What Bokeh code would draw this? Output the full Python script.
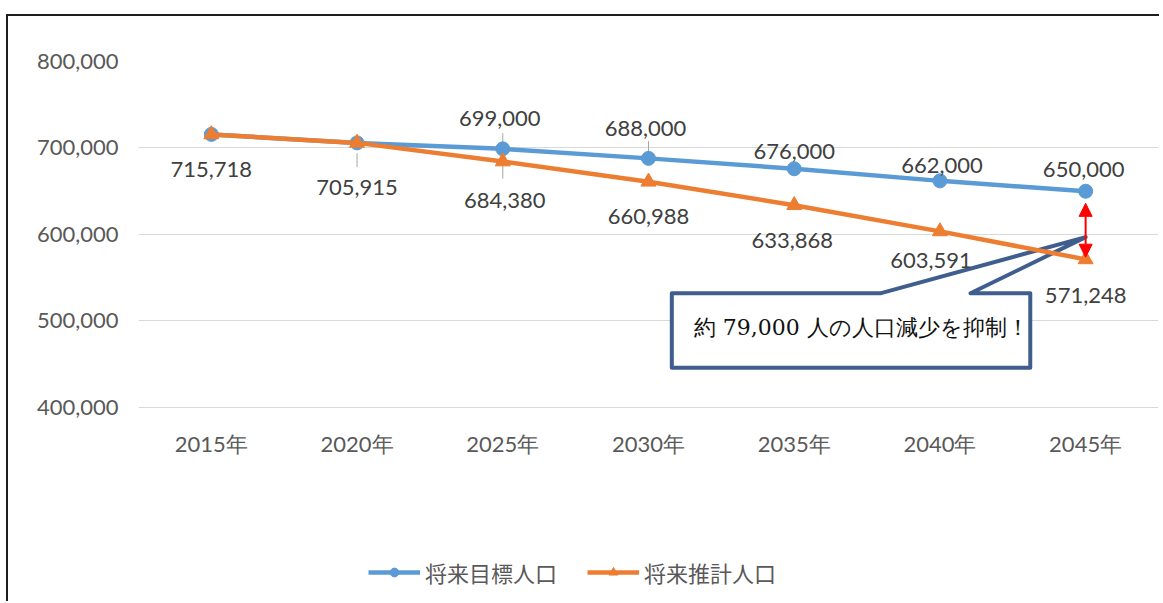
from bokeh.plotting import figure
from bokeh.models import (Legend, LegendItem, Arrow, NormalHead, Range1d, FactorRange,
                          NumeralTickFormatter, ColumnDataSource, FixedTicker)
from bokeh.core.properties import value
from bokeh.embed import file_html
from bokeh.resources import INLINE

# ---- data ----
years = ["2015年", "2020年", "2025年", "2030年", "2035年", "2040年", "2045年"]
target = [715718, 705915, 699000, 688000, 676000, 662000, 650000]   # 将来目標人口
projected = [715718, 705915, 684380, 660988, 633868, 603591, 571248]  # 将来推計人口
y_ticks = [400000, 500000, 600000, 700000, 800000]
callout_text = "約 79,000 人の人口減少を抑制！"

# ---- label placement (screen px) ----
proj_dx = [0, 0, 2, 0, -2, -9, 0]
proj_dy = [35, 45, 39, 35, 35, 29, 36]
targ_idx = [2, 3, 4, 5, 6]
targ_dx = [-3, -3, 0, 2, -2]
targ_dy = [-30, -30, -17, -15, -22]

BLUE = "#5b9bd5"
ORANGE = "#ed7d31"

# the frame extends below the value axis so the legend can sit inside it;
# the category axis is pinned at the 400,000 line
p = figure(x_range=FactorRange(*years, range_padding=0), y_range=Range1d(173400, 800000),
           width=1153, height=587, output_backend="svg", toolbar_location=None,
           min_border_left=130, min_border_right=3, min_border_top=45, min_border_bottom=0)
p.styles = {"position": "relative", "top": "14px", "left": "6px",
            "border-left": "2px solid #1e1e1e", "border-top": "2px solid #1e1e1e"}
p.outline_line_color = None
p.xgrid.grid_line_color = None
p.ygrid.grid_line_color = "#d9d9d9"
p.ygrid.grid_line_width = 1
p.yaxis.ticker = FixedTicker(ticks=y_ticks)
p.yaxis.formatter = NumeralTickFormatter(format="0,0")
p.xaxis.fixed_location = y_ticks[0]
for ax in (p.xaxis, p.yaxis):
    ax.axis_line_color = None
    ax.major_tick_line_color = None
    ax.minor_tick_line_color = None
    ax.major_label_text_color = "#595959"
    ax.major_label_text_font = "Lato"
    ax.major_label_text_font_size = "22px"
p.yaxis.major_label_standoff = 14
p.xaxis.major_label_standoff = 17

# leader lines (thin gray)
lead_x = [years[1], years[2], years[3]]
lead_top = [projected[1] - 12000, target[2] + 18000, target[3] + 20000]
lead_bot = [projected[1] - 28000, projected[2] - 20000, target[3] + 6000]
p.segment(x0=lead_x, y0=lead_top, x1=lead_x, y1=lead_bot, line_color="#a6a6a6", line_width=1)

# callout box with pointer (drawn under the series)
tip_x, tip_y = 6.5, 597000
cx = [3.66, 5.09, tip_x, 5.71, 6.12, 6.12, 3.66]
cy = [532000, 532000, tip_y, 532000, 532000, 446000, 446000]
p.patch(cx, cy, fill_color="white", line_color="#3f5e8e", line_width=4, line_join="round")
p.text(x=[3.81], y=[492500], text=[callout_text], text_font=value("DejaVu Serif"),
       text_font_size="22px", text_color="#111111", text_align="left", text_baseline="middle")

# series
src_t = ColumnDataSource(dict(x=years, y=target))
src_p = ColumnDataSource(dict(x=years, y=projected))
lt = p.line("x", "y", source=src_t, line_color=BLUE, line_width=4.5)
mt = p.scatter("x", "y", source=src_t, marker="circle", size=14, fill_color=BLUE, line_color=BLUE)
lp = p.line("x", "y", source=src_p, line_color=ORANGE, line_width=4.5)
mp = p.scatter("x", "y", source=src_p, marker="triangle", size=15, fill_color=ORANGE, line_color=ORANGE)

# data labels
p.text(x=years, y=projected, text=[f"{v:,}" for v in projected], x_offset=proj_dx, y_offset=proj_dy,
       text_font=value("Lato"), text_font_size="22px", text_color="#404040",
       text_align="center", text_baseline="middle")
p.text(x=[years[i] for i in targ_idx], y=[target[i] for i in targ_idx],
       text=[f"{target[i]:,}" for i in targ_idx], x_offset=targ_dx, y_offset=targ_dy,
       text_font=value("Lato"), text_font_size="22px", text_color="#404040",
       text_align="center", text_baseline="middle")

# red double arrow between the two 2045 values
p.add_layout(Arrow(x_start=6.5, y_start=target[-1] - 14000, x_end=6.5, y_end=projected[-1] + 2500,
                   line_color="red", line_width=2,
                   start=NormalHead(size=13, fill_color="red", line_color="red"),
                   end=NormalHead(size=13, fill_color="red", line_color="red")))

legend = Legend(items=[LegendItem(label="将来目標人口", renderers=[lt, mt]),
                       LegendItem(label="将来推計人口", renderers=[lp, mp])],
                location=(230, 15), orientation="horizontal", padding=0, margin=0,
                spacing=30, glyph_width=52, glyph_height=22, label_standoff=5,
                label_text_font="Noto Sans CJK JP", label_text_font_size="22px",
                label_text_color="#595959", border_line_color=None, background_fill_alpha=0)
p.add_layout(legend, "center")

open("out.html", "w").write(file_html(p, INLINE))
